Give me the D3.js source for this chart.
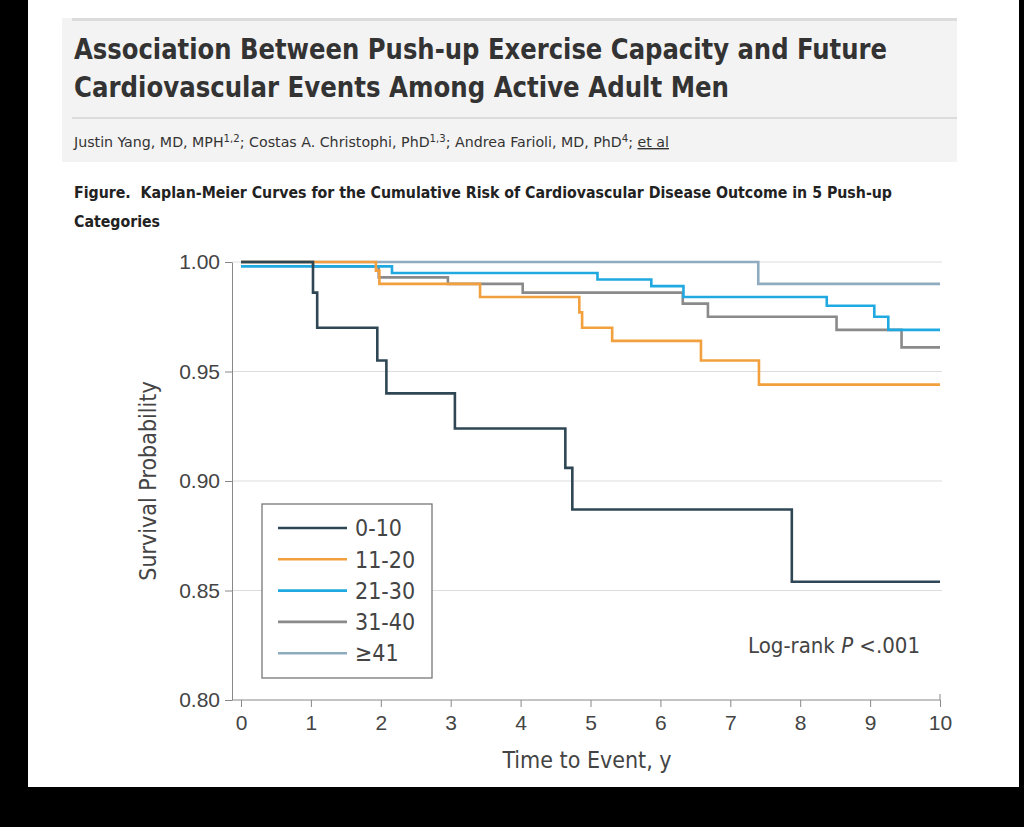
<!DOCTYPE html>
<html>
<head>
<meta charset="utf-8">
<style>
body { margin: 0; background: #000; }
svg { display: block; font-family: "Liberation Sans Narrow", "DejaVu Sans Condensed", sans-serif; }
.title { font-size: 29px; font-weight: bold; fill: #333; }
.authors { font-size: 14px; fill: #333; }
.caption { font-size: 16px; font-weight: bold; fill: #222; white-space: pre; }
.tick text { font-size: 21px; fill: #444; }
.axis path, .axis line { stroke: #888; }
.grid line { stroke: #ddd; }
.axis-title { font-size: 23px; fill: #444; }
.legend text { font-size: 23px; fill: #444; }
.km { fill: none; stroke-width: 2.6px; }
</style>
</head>
<body>
<svg width="1024" height="827"></svg>
<script src="https://cdnjs.cloudflare.com/ajax/libs/d3/7.8.5/d3.min.js"></script>
<script>

// push-up categories and Kaplan-Meier steps [years, survival]
var groups = ["0-10", "11-20", "21-30", "31-40", "\u226541"];
var colors = ["#2f4754", "#f2a03d", "#20a9e1", "#8a8a8a", "#8fabbf"];

var km0to10 = [[0, 1], [1.03, 0.986], [1.09, 0.970], [1.95, 0.955], [2.08, 0.940],
  [3.06, 0.924], [4.64, 0.906], [4.74, 0.887], [7.88, 0.854], [10, 0.854]];
var km11to20 = [[0, 1], [1.93, 0.996], [1.98, 0.990], [3.42, 0.984], [4.84, 0.977],
  [4.88, 0.970], [5.31, 0.964], [6.58, 0.955], [7.41, 0.944], [10, 0.944]];
var km21to30 = [[0, 0.998], [2.16, 0.995], [5.10, 0.992], [5.87, 0.989], [6.33, 0.984],
  [8.38, 0.980], [9.06, 0.975], [9.26, 0.969], [10, 0.969]];
var km31to40 = [[0, 1], [1.03, 0.998], [1.97, 0.993], [2.96, 0.990], [4.03, 0.986],
  [6.32, 0.981], [6.68, 0.975], [8.52, 0.969], [9.45, 0.961], [10, 0.961]];
var km41plus = [[0, 1], [7.40, 0.990], [10, 0.990]];

var curves = [km0to10, km11to20, km21to30, km31to40, km41plus];

var xTicks = [0, 1, 2, 3, 4, 5, 6, 7, 8, 9, 10];
var yTicks = [0.80, 0.85, 0.90, 0.95, 1.00];

var svg = d3.select("svg");

// white page inside the black frame
svg.append("rect").attr("x", 28).attr("y", 0).attr("width", 991).attr("height", 787).attr("fill", "#fff");

// header box
svg.append("rect").attr("x", 62).attr("y", 18).attr("width", 895).attr("height", 144).attr("fill", "#f3f3f3");
svg.append("rect").attr("x", 72).attr("y", 18).attr("width", 885).attr("height", 3).attr("fill", "#dcdcdc");
svg.append("rect").attr("x", 72).attr("y", 117).attr("width", 885).attr("height", 2).attr("fill", "#dcdcdc");

svg.append("text").attr("class", "title").attr("x", 74).attr("y", 59)
  .attr("textLength", 813).attr("lengthAdjust", "spacingAndGlyphs")
  .text("Association Between Push-up Exercise Capacity and Future");
svg.append("text").attr("class", "title").attr("x", 74).attr("y", 97)
  .attr("textLength", 655).attr("lengthAdjust", "spacingAndGlyphs")
  .text("Cardiovascular Events Among Active Adult Men");

var authors = svg.append("text").attr("class", "authors").attr("x", 74).attr("y", 147)
  .attr("textLength", 595).attr("lengthAdjust", "spacingAndGlyphs");
authors.append("tspan").text("Justin Yang, MD, MPH");
authors.append("tspan").attr("dy", -5).attr("font-size", 10).text("1,2");
authors.append("tspan").attr("dy", 5).text("; Costas A. Christophi, PhD");
authors.append("tspan").attr("dy", -5).attr("font-size", 10).text("1,3");
authors.append("tspan").attr("dy", 5).text("; Andrea Farioli, MD, PhD");
authors.append("tspan").attr("dy", -5).attr("font-size", 10).text("4");
authors.append("tspan").attr("dy", 5).text("; ");
authors.append("tspan").attr("text-decoration", "underline").text("et al");

svg.append("text").attr("class", "caption").attr("x", 74).attr("y", 198)
  .attr("textLength", 818).attr("lengthAdjust", "spacingAndGlyphs")
  .text("Figure.  Kaplan-Meier Curves for the Cumulative Risk of Cardiovascular Disease Outcome in 5 Push-up");
svg.append("text").attr("class", "caption").attr("x", 74).attr("y", 227)
  .attr("textLength", 86).attr("lengthAdjust", "spacingAndGlyphs")
  .text("Categories");

// plot
var x = d3.scaleLinear().domain([0, 10]).range([241, 940]);
var y = d3.scaleLinear().domain([0.80, 1.00]).range([700, 262]);
var left = 232;

svg.append("g").attr("class", "grid")
  .selectAll("line").data(yTicks.filter(function (d) { return d > 0.8; }))
  .enter().append("line")
  .attr("x1", left).attr("x2", x(10) + 2)
  .attr("y1", function (d) { return y(d); }).attr("y2", function (d) { return y(d); });

var xAxis = svg.append("g").attr("class", "axis").attr("transform", "translate(0," + y(0.80) + ")")
  .call(d3.axisBottom(x).tickValues(xTicks).tickSize(7).tickSizeOuter(0).tickPadding(8).tickFormat(d3.format("d")));
xAxis.select(".domain").attr("d", "M" + left + ",0H" + x(10) + "V-6");

var yAxis = svg.append("g").attr("class", "axis").attr("transform", "translate(" + left + ",0)")
  .call(d3.axisLeft(y).tickValues(yTicks).tickSize(7).tickSizeOuter(0).tickPadding(5).tickFormat(d3.format(".2f")));

svg.selectAll(".axis .tick text").attr("font-family", null).attr("font-size", null);

svg.append("text").attr("class", "axis-title").attr("x", (left + x(10)) / 2 + 1).attr("y", 768)
  .attr("text-anchor", "middle").text("Time to Event, y");
svg.append("text").attr("class", "axis-title")
  .attr("transform", "translate(156," + y(0.90) + ") rotate(-90)")
  .attr("text-anchor", "middle").text("Survival Probability");

var line = d3.line()
  .x(function (d) { return x(d[0]); })
  .y(function (d) { return y(d[1]); })
  .curve(d3.curveStepAfter);

// draw from the highest category up so 0-10 sits on top
var order = [4, 3, 2, 1, 0];
svg.append("g").selectAll("path").data(order).enter().append("path")
  .attr("class", "km")
  .attr("stroke", function (i) { return colors[i]; })
  .attr("d", function (i) { return line(curves[i]); });

// legend
var legend = svg.append("g").attr("class", "legend").attr("transform", "translate(262,504)");
legend.append("rect").attr("width", 170).attr("height", 174)
  .attr("fill", "#fff").attr("stroke", "#777").attr("stroke-width", 1.3);
var item = legend.selectAll("g.item").data(groups).enter().append("g")
  .attr("class", "item")
  .attr("transform", function (d, i) { return "translate(0," + (24 + i * 31.3) + ")"; });
item.append("line").attr("x1", 16).attr("x2", 85)
  .attr("stroke", function (d, i) { return colors[i]; }).attr("stroke-width", 2.6);
item.append("text").attr("x", 93).attr("dy", "0.36em").text(function (d) { return d; });

var logrank = svg.append("text").attr("x", 920).attr("y", 653)
  .attr("text-anchor", "end").attr("font-size", 22).attr("fill", "#444");
logrank.append("tspan").text("Log-rank ");
logrank.append("tspan").attr("font-style", "italic").text("P");
logrank.append("tspan").text(" <.001");

</script>
</body>
</html>
